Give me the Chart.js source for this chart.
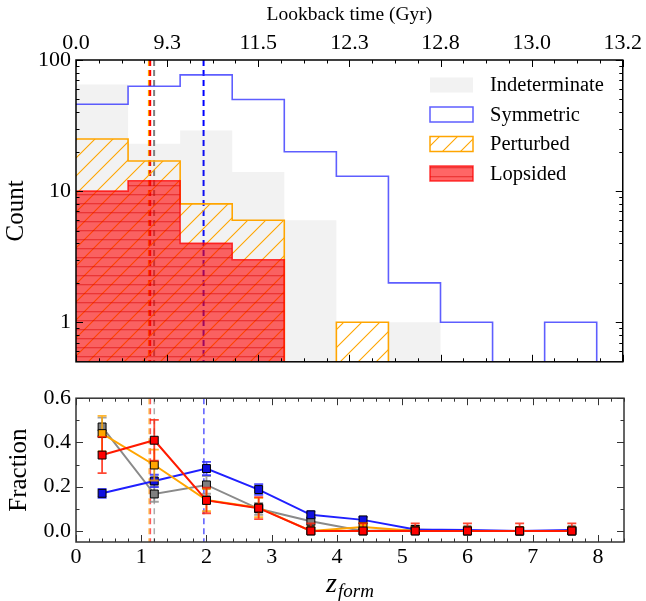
<!DOCTYPE html>
<html lang="en">
<head>
<meta charset="UTF-8">
<title>Formation redshift</title>
<script src="https://cdn.jsdelivr.net/npm/chart.js"></script>
<style>
  body { margin: 0; background: #fff; }
  canvas { position: absolute; left: 0; }
  #top { top: 0; }
  #bottom { top: 380px; }
</style>
</head>
<body>
<canvas id="top" width="646" height="380"></canvas>
<canvas id="bottom" width="646" height="221"></canvas>
<script>
// ---- data ----
const seriesNames = ['Indeterminate', 'Symmetric', 'Perturbed', 'Lopsided'];
const binEdges = [0, 0.8, 1.6, 2.4, 3.2, 4.0, 4.8, 5.6, 6.4, 7.2, 8.0];
const binCenters = [0.4, 1.2, 2.0, 2.8, 3.6, 4.4, 5.2, 6.0, 6.8, 7.6];

const countIndeterminate = [65, 23, 29, 14, 6, 0, 1, 0, 0, 0];
const countSymmetric = [46, 63, 77, 50, 20, 13, 2, 1, 0, 1];
const countPerturbed = [25, 17, 8, 6, 0, 1, 0, 0, 0, 0];
const countLopsided = [10, 12, 4, 3, 0, 0, 0, 0, 0, 0];

const fracIndeterminate = [0.47, 0.167, 0.208, 0.10, 0.044, 0, 0.007, 0, 0, 0];
const fracSymmetric = [0.17, 0.226, 0.282, 0.187, 0.073, 0.05, 0.007, 0.004, 0, 0.004];
const fracPerturbed = [0.44, 0.298, 0.14, 0.105, 0, 0.018, 0, 0, 0, 0];
const fracLopsided = [0.343, 0.41, 0.138, 0.103, 0, 0, 0, 0, 0, 0];

const errIndeterminate = [0.042, 0.035, 0.04, 0.027, 0.018, 0.007, 0.007, 0.007, 0.007, 0.007];
const errSymmetric = [0.02, 0.028, 0.03, 0.024, 0.015, 0.013, 0.006, 0.004, 0.004, 0.004];
const errPerturbed = [0.08, 0.07, 0.05, 0.043, 0.018, 0.018, 0.018, 0.018, 0.018, 0.018];
const errLopsided = [0.082, 0.092, 0.058, 0.05, 0.034, 0.034, 0.034, 0.034, 0.034, 0.034];

// median z_form of each class (dashed lines)
const medianZ = [1.20, 1.96, 1.12, 1.14];

// axes
const lookbackTickZ = [0, 1.4, 2.8, 4.2, 5.6, 7.0, 8.4];
const lookbackLabels = ['0.0', '9.3', '11.5', '12.3', '12.8', '13.0', '13.2'];
const countTicks = [1, 10, 100];
const fracTicks = [0, 0.2, 0.4, 0.6];
const zTicks = [0, 1, 2, 3, 4, 5, 6, 7, 8];

const serif = "'Liberation Serif', 'DejaVu Serif', serif";
Chart.defaults.font.family = serif;
Chart.defaults.color = '#000';

const Z_MAX = 8.4;

function stepPoints(counts) {
    const pts = counts.map((c, i) => ({ x: binEdges[i], y: c > 0 ? c : 0.1 }));
    pts.push({ x: binEdges[counts.length], y: 0.1 });
    return pts;
}

function makeHatch(size, draw) {
    const c = document.createElement('canvas');
    c.width = size; c.height = size;
    draw(c.getContext('2d'), size);
    return c.getContext('2d').createPattern(c, 'repeat');
}

const hatchOrange = makeHatch(18, (g, s) => {
    g.strokeStyle = '#ffa500';
    g.lineWidth = 1.1;
    g.beginPath();
    g.moveTo(0, s); g.lineTo(s, 0);
    g.moveTo(-2, 2); g.lineTo(2, -2);
    g.moveTo(s - 2, s + 2); g.lineTo(s + 2, s - 2);
    g.stroke();
});

const hatchRed = makeHatch(9, (g, s) => {
    g.fillStyle = 'rgba(255,0,0,0.6)';
    g.fillRect(0, 0, s, s);
    g.fillStyle = 'rgba(215,0,0,0.45)';
    g.fillRect(0, 5, s, 1.3);
});

function minorList(step, max, skipEvery) {
    const out = [];
    for (let k = 0; k * step <= max + 1e-9; k++) {
        if (skipEvery && k % skipEvery === 0) continue;
        out.push(+(k * step).toFixed(4));
    }
    return out;
}

// inward ticks + frame
const frameTicks = {
    id: 'frameTicks',
    afterDraw(chart, args, o) {
        const { ctx, chartArea: a } = chart;
        const xs = chart.scales[o.xScale], ys = chart.scales[o.yScale];
        ctx.save();
        ctx.strokeStyle = o.color;
        ctx.lineWidth = 1;
        ctx.beginPath();
        const xt = (list, len) => list.forEach(v => {
            const p = Math.round(xs.getPixelForValue(v)) + 0.5;
            if (p < a.left || p > a.right + 1) return;
            ctx.moveTo(p, a.top); ctx.lineTo(p, a.top + len);
            ctx.moveTo(p, a.bottom); ctx.lineTo(p, a.bottom - len);
        });
        const yt = (list, len) => list.forEach(v => {
            const p = Math.round(ys.getPixelForValue(v)) + 0.5;
            if (p < a.top || p > a.bottom) return;
            ctx.moveTo(a.left, p); ctx.lineTo(a.left + len, p);
            ctx.moveTo(a.right, p); ctx.lineTo(a.right - len, p);
        });
        xt(o.xMajor, 7); xt(o.xMinor, 3.5);
        yt(o.yMajor, 7); yt(o.yMinor, 3.5);
        ctx.stroke();
        ctx.lineWidth = 1.5;
        ctx.strokeRect(a.left, a.top, a.right - a.left, a.bottom - a.top);
        ctx.restore();
    }
};

// dashed median lines
const medianLines = {
    id: 'medianLines',
    beforeDatasetsDraw(chart, args, o) {
        const { ctx, chartArea: a } = chart;
        const xs = chart.scales.x;
        ctx.save();
        ctx.globalAlpha = o.alpha;
        ctx.lineWidth = o.width;
        ctx.setLineDash(o.dash);
        o.lines.forEach(l => {
            const p = xs.getPixelForValue(l.x);
            ctx.strokeStyle = l.color;
            ctx.beginPath();
            ctx.moveTo(p, a.top); ctx.lineTo(p, a.bottom);
            ctx.stroke();
        });
        ctx.restore();
    }
};

// legend inside the top panel
const boxLegend = {
    id: 'boxLegend',
    afterDraw(chart, args, o) {
        const ctx = chart.ctx;
        ctx.save();
        ctx.font = '20.5px ' + serif;
        ctx.textBaseline = 'middle';
        chart.data.datasets.forEach((ds, i) => {
            const cy = o.top + i * o.gap;
            const x = o.left, y = cy - 7.5, w = 43, h = 15;
            ctx.fillStyle = '#fff';
            ctx.fillRect(x, y, w, h);
            ctx.fillStyle = ds.fill ? ds.backgroundColor : '#fff';
            ctx.fillRect(x, y, w, h);
            if (ds.legendBorder) {
                ctx.strokeStyle = ds.borderColor;
                ctx.lineWidth = 1.5;
                ctx.strokeRect(x, y, w, h);
            }
            ctx.fillStyle = '#000';
            ctx.fillText(ds.label, x + 60, cy + 1);
        });
        ctx.restore();
    }
};

// error bars, drawn just before each series
const errorBars = {
    id: 'errorBars',
    beforeDatasetDraw(chart, args) {
        const ds = chart.data.datasets[args.index];
        if (!ds.errors) return;
        const ctx = chart.ctx, ys = chart.scales.y;
        ctx.save();
        ctx.strokeStyle = ds.borderColor;
        ctx.globalAlpha = 0.8;
        ctx.lineWidth = 1.8;
        ctx.beginPath();
        args.meta.data.forEach((pt, i) => {
            const v = ds.data[i].y, e = ds.errors[i];
            const hi = ys.getPixelForValue(v + e);
            const lo = ys.getPixelForValue(v - Math.min(e, v));
            ctx.moveTo(pt.x, hi); ctx.lineTo(pt.x, lo);
            ctx.moveTo(pt.x - 4.5, hi); ctx.lineTo(pt.x + 4.5, hi);
            if (v > 0) { ctx.moveTo(pt.x - 4.5, lo); ctx.lineTo(pt.x + 4.5, lo); }
        });
        ctx.stroke();
        ctx.restore();
    }
};

// math-style x label z_form
const zLabel = {
    id: 'zLabel',
    afterDraw(chart) {
        const ctx = chart.ctx;
        ctx.save();
        ctx.fillStyle = '#000';
        ctx.textBaseline = 'alphabetic';
        ctx.font = 'italic 28px ' + serif;
        const wz = ctx.measureText('z').width;
        ctx.font = 'italic 19px ' + serif;
        const wf = ctx.measureText('form').width;
        const x0 = 350 - (wz + wf + 1) / 2;
        ctx.font = 'italic 28px ' + serif;
        ctx.fillText('z', x0, 212);
        ctx.font = 'italic 19px ' + serif;
        ctx.fillText('form', x0 + wz + 1, 216.5);
        ctx.restore();
    }
};

const tickFont = { size: 22, family: serif };
const noGrid = { display: false, drawTicks: false };

// ---- top panel: histograms ----
new Chart(document.getElementById('top'), {
    type: 'line',
    data: {
        datasets: [
            { label: seriesNames[0], data: stepPoints(countIndeterminate), stepped: true,
              borderColor: 'rgba(0,0,0,0)', borderWidth: 0, backgroundColor: 'rgba(128,128,128,0.1)',
              fill: 'start', pointRadius: 0, order: 4, legendBorder: false },
            { label: seriesNames[1], data: stepPoints(countSymmetric), stepped: true,
              borderColor: 'rgba(40,40,255,0.75)', borderWidth: 1.6, backgroundColor: '#fff',
              fill: false, pointRadius: 0, order: 3, legendBorder: true },
            { label: seriesNames[2], data: stepPoints(countPerturbed), stepped: true,
              borderColor: '#ffa500', borderWidth: 1.6, backgroundColor: hatchOrange,
              fill: 'start', pointRadius: 0, order: 2, legendBorder: true },
            { label: seriesNames[3], data: stepPoints(countLopsided), stepped: true,
              borderColor: 'rgba(255,0,0,0.75)', borderWidth: 1.6, backgroundColor: hatchRed,
              fill: 'start', pointRadius: 0, order: 1, legendBorder: true }
        ]
    },
    options: {
        responsive: false,
        animation: false,
        events: [],
        layout: { padding: { right: 22, bottom: 14 } },
        plugins: {
            legend: { display: false },
            tooltip: { enabled: false },
            frameTicks: {
                xScale: 'x', yScale: 'y', color: '#000',
                xMajor: lookbackTickZ, xMinor: minorList(0.35, Z_MAX, 4),
                yMajor: countTicks,
                yMinor: [0.6, 0.7, 0.8, 0.9, 2, 3, 4, 5, 6, 7, 8, 9, 20, 30, 40, 50, 60, 70, 80, 90]
            },
            medianLines: {
                alpha: 1, width: 2, dash: [6, 4],
                lines: [
                    { x: medianZ[0], color: '#808080' },
                    { x: medianZ[1], color: '#0000ff' },
                    { x: medianZ[2], color: '#ffa500' },
                    { x: medianZ[3], color: '#ff0000' }
                ]
            },
            boxLegend: { left: 430, top: 85, gap: 29.5 }
        },
        scales: {
            x: { type: 'linear', min: 0, max: Z_MAX, display: false },
            xTop: {
                type: 'linear', position: 'top', min: 0, max: Z_MAX,
                afterBuildTicks: s => { s.ticks = lookbackTickZ.map(v => ({ value: v })); },
                afterFit: s => { s.height = 60; },
                ticks: { callback: (v, i) => lookbackLabels[i], font: tickFont, padding: 4,
                         autoSkip: false, maxRotation: 0 },
                grid: noGrid, border: { display: false },
                title: { display: true, text: 'Lookback time (Gyr)', font: { size: 19.5 },
                         padding: { top: 3, bottom: 0 } }
            },
            y: {
                type: 'logarithmic', min: 0.5, max: 100,
                afterBuildTicks: s => { s.ticks = countTicks.map(v => ({ value: v })); },
                afterFit: s => { s.width = 76; },
                ticks: { callback: v => String(v), font: tickFont, padding: 5 },
                grid: noGrid, border: { display: false },
                title: { display: true, text: 'Count', font: { size: 25 }, padding: { top: 1, bottom: 0 } }
            }
        }
    },
    plugins: [medianLines, frameTicks, boxLegend]
});

// ---- bottom panel: fractions ----
function fracSet(label, fracs, errs, line, marker, order) {
    return {
        label, errors: errs,
        data: binCenters.map((x, i) => ({ x, y: fracs[i] })),
        borderColor: line, borderWidth: 2,
        pointStyle: 'rect', pointRadius: 5.6,
        pointBackgroundColor: marker, pointBorderColor: '#000', pointBorderWidth: 1,
        fill: false, order
    };
}

new Chart(document.getElementById('bottom'), {
    type: 'line',
    data: {
        datasets: [
            fracSet(seriesNames[0], fracIndeterminate, errIndeterminate, '#8a8a8a', '#808080', 4),
            fracSet(seriesNames[1], fracSymmetric, errSymmetric, '#2020ff', '#1010e0', 3),
            fracSet(seriesNames[2], fracPerturbed, errPerturbed, '#ffa500', '#ffa500', 2),
            fracSet(seriesNames[3], fracLopsided, errLopsided, '#ff1a00', '#ff0000', 1)
        ]
    },
    options: {
        responsive: false,
        animation: false,
        events: [],
        layout: { padding: { top: 10.5, right: 22 } },
        plugins: {
            legend: { display: false },
            tooltip: { enabled: false },
            frameTicks: {
                xScale: 'x', yScale: 'y', color: '#333',
                xMajor: zTicks, xMinor: minorList(0.2, Z_MAX, 5),
                yMajor: fracTicks, yMinor: [0.1, 0.3, 0.5]
            },
            medianLines: {
                alpha: 0.65, width: 1.5, dash: [6, 4],
                lines: [
                    { x: medianZ[0], color: '#808080' },
                    { x: medianZ[1], color: '#0000ff' },
                    { x: medianZ[2], color: '#ffa500' },
                    { x: medianZ[3], color: '#ff0000' }
                ]
            }
        },
        scales: {
            x: {
                type: 'linear', min: 0, max: Z_MAX,
                afterBuildTicks: s => { s.ticks = zTicks.map(v => ({ value: v })); },
                afterFit: s => { s.height = 59; },
                ticks: { callback: v => String(v), font: tickFont, padding: 2,
                         autoSkip: false, maxRotation: 0 },
                grid: noGrid, border: { display: false }
            },
            y: {
                min: -0.05, max: 0.6,
                afterBuildTicks: s => { s.ticks = fracTicks.map(v => ({ value: v })); },
                afterFit: s => { s.width = 76; },
                ticks: { callback: v => v.toFixed(1), font: tickFont, padding: 5 },
                grid: noGrid, border: { display: false },
                title: { display: true, text: 'Fraction', font: { size: 25 }, padding: { top: 4, bottom: 0 } }
            }
        }
    },
    plugins: [medianLines, errorBars, frameTicks, zLabel]
});
</script>
</body>
</html>
